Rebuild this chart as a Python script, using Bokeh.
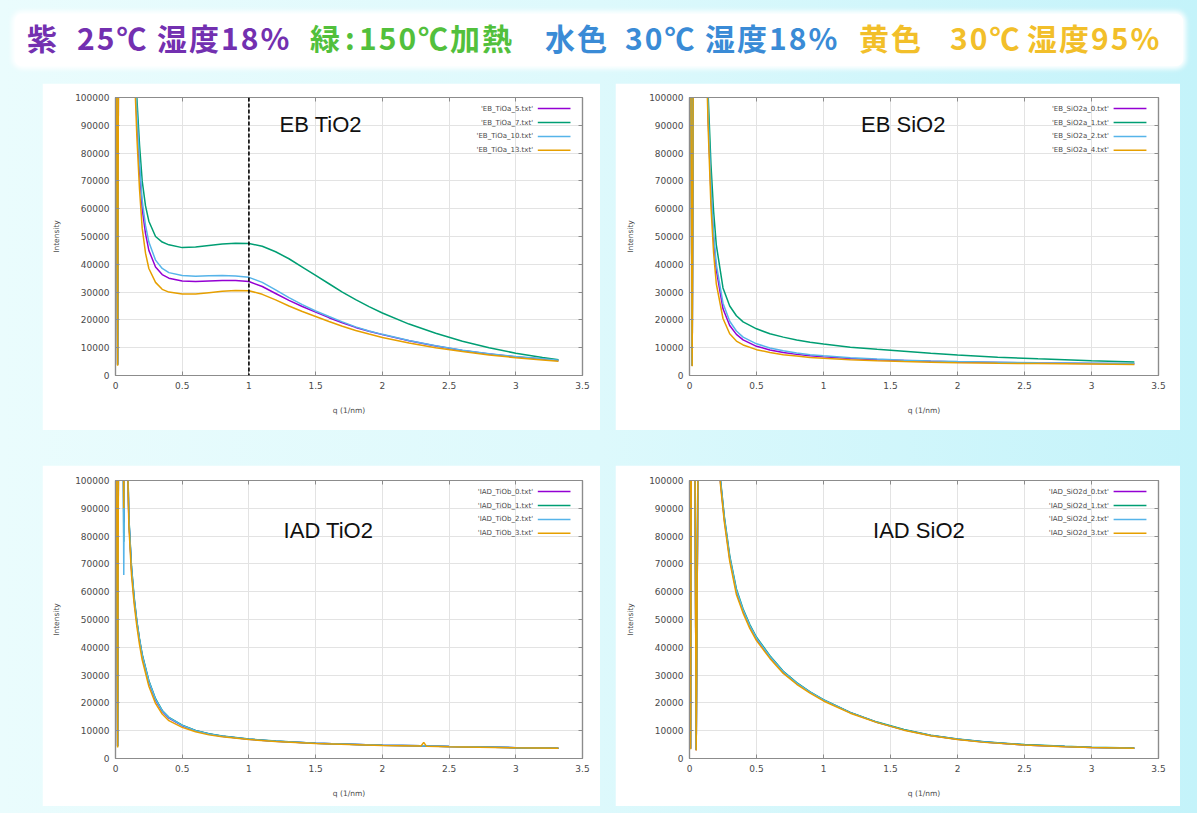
from bokeh.plotting import figure
from bokeh.models import (Range1d, LinearAxis, FixedTicker, CustomJSTickFormatter,
                          Label, Div, Spacer, Span)
from bokeh.layouts import column, row
from bokeh.embed import file_html
from bokeh.resources import INLINE
from bokeh.core.properties import value

# ---------------- data ----------------
x_ticks = [0, 0.5, 1, 1.5, 2, 2.5, 3, 3.5]
y_ticks = [0, 10000, 20000, 30000, 40000, 50000, 60000, 70000, 80000, 90000, 100000]
series_colors = ["#9400D3", "#009E73", "#56B4E9", "#E69F00"]

header_texts = ["紫", "25℃", "湿度18%", "緑", ":", "150℃加熱", "水色", "30℃", "湿度18%", "黄色", "30℃", "湿度95%"]
header_colors = ["#7330b0", "#7330b0", "#7330b0", "#52c03c", "#52c03c", "#52c03c",
                 "#3a8bd6", "#3a8bd6", "#3a8bd6", "#f2bf2a", "#f2bf2a", "#f2bf2a"]

# EB TiO2
q_eb_tio2 = [0.000, 0.008, 0.016, 0.024, 0.032, 0.060, 0.100, 0.140, 0.160, 0.180, 0.200, 0.225, 0.250,
             0.300, 0.350, 0.400, 0.500, 0.600, 0.700, 0.800, 0.900, 1.000, 1.100, 1.200, 1.300, 1.400,
             1.500, 1.600, 1.700, 1.800, 1.900, 2.000, 2.200, 2.400, 2.600, 2.800, 3.000, 3.200, 3.320]
eb_tio2_5 = [150000, 120000, 4000, 150000, 300000, 450000, 300000, 118000, 92000, 74000, 60000, 51000, 45000,
             39000, 36300, 35000, 34000, 33800, 34000, 34200, 34200, 33800, 32000, 29500, 27000, 24800,
             22800, 20800, 19000, 17300, 15900, 14700, 12500, 10600, 9000, 7700, 6700, 5900, 5400]
eb_tio2_7 = [150000, 118000, 3800, 160000, 320000, 480000, 320000, 125000, 100000, 83000, 70000, 61000, 55500,
             50000, 48000, 47000, 46000, 46200, 46800, 47300, 47600, 47500, 46500, 44500, 42000, 39000,
             36000, 33000, 30000, 27300, 24800, 22500, 18500, 15200, 12300, 10000, 8000, 6500, 5700]
eb_tio2_10 = [145000, 115000, 4200, 150000, 310000, 460000, 310000, 120000, 95000, 77000, 63000, 54000, 48000,
              41500, 38500, 37000, 36000, 35700, 35900, 36000, 35800, 35300, 33500, 30800, 28000, 25500,
              23200, 21200, 19300, 17500, 16000, 14800, 12600, 10700, 9100, 7800, 6800, 6000, 5500]
eb_tio2_13 = [140000, 110000, 3500, 145000, 290000, 440000, 290000, 112000, 86000, 67000, 53000, 44000, 38500,
              33500, 31000, 30000, 29300, 29300, 29800, 30300, 30600, 30500, 29200, 27200, 25000, 23000,
              21200, 19400, 17700, 16200, 14900, 13700, 11700, 10000, 8600, 7400, 6400, 5600, 5100]
eb_tio2_labels = ["'EB_TiOa_5.txt'", "'EB_TiOa_7.txt'", "'EB_TiOa_10.txt'", "'EB_TiOa_13.txt'"]
eb_tio2_marker_q = 1.0

# EB SiO2
q_eb_sio2 = [0.000, 0.010, 0.020, 0.030, 0.040, 0.055, 0.070, 0.085, 0.100, 0.120, 0.140, 0.160, 0.180,
             0.200, 0.250, 0.300, 0.350, 0.400, 0.500, 0.600, 0.700, 0.800, 0.900, 1.000, 1.200, 1.400,
             1.600, 1.800, 2.000, 2.300, 2.600, 3.000, 3.320]
eb_sio2_0 = [150000, 120000, 3500, 140000, 260000, 150000, 300000, 200000, 300000, 130000, 92000, 66000, 49000,
             38000, 24000, 18000, 14800, 12800, 10500, 9200, 8300, 7600, 7100, 6700, 6100, 5700,
             5400, 5100, 4900, 4700, 4500, 4300, 4200]
eb_sio2_1 = [150000, 118000, 3600, 150000, 270000, 160000, 310000, 210000, 320000, 140000, 100000, 76000, 59000,
             47000, 31500, 25000, 21500, 19300, 16800, 15000, 13800, 12800, 12000, 11300, 10200, 9400,
             8700, 8000, 7400, 6600, 6000, 5300, 4900]
eb_sio2_2 = [145000, 115000, 3400, 145000, 265000, 155000, 305000, 205000, 310000, 132000, 94000, 68000, 51000,
             40000, 26000, 19500, 16000, 13800, 11400, 9900, 8900, 8100, 7500, 7100, 6400, 5900,
             5500, 5200, 5000, 4800, 4600, 4400, 4300]
eb_sio2_4 = [140000, 110000, 3300, 140000, 255000, 145000, 295000, 195000, 300000, 125000, 88000, 61000, 44000,
             33000, 20500, 15000, 12400, 11000, 9300, 8300, 7500, 7000, 6500, 6200, 5700, 5300,
             5000, 4800, 4600, 4400, 4300, 4100, 4000]
eb_sio2_labels = ["'EB_SiO2a_0.txt'", "'EB_SiO2a_1.txt'", "'EB_SiO2a_2.txt'", "'EB_SiO2a_4.txt'"]

# IAD TiO2
q_iad_tio2 = [0.000, 0.008, 0.016, 0.024, 0.032, 0.045, 0.055, 0.062, 0.070, 0.080, 0.090, 0.100, 0.120,
              0.140, 0.160, 0.180, 0.200, 0.250, 0.300, 0.350, 0.400, 0.500, 0.600, 0.700, 0.800, 1.000,
              1.200, 1.500, 2.000, 2.290, 2.310, 2.330, 2.500, 3.000, 3.320]
iad_tio2_0 = [150000, 120000, 4500, 150000, 300000, 200000, 150000, 85000, 150000, 160000, 110000, 86000, 68000,
              57000, 49000, 42500, 37000, 27500, 21000, 17000, 14500, 11800, 10000, 8800, 8000, 6900,
              6200, 5500, 4800, 4550, 4550, 4500, 4300, 3900, 3700]
iad_tio2_1 = [148000, 118000, 4300, 155000, 310000, 210000, 140000, 78000, 140000, 165000, 112000, 87000, 69000,
              58000, 49500, 43000, 37500, 28000, 21500, 17300, 14800, 12000, 10100, 8900, 8100, 7000,
              6300, 5500, 4800, 4550, 4550, 4500, 4300, 3900, 3700]
iad_tio2_2 = [145000, 115000, 4400, 150000, 305000, 205000, 145000, 66000, 145000, 160000, 111000, 86500, 68500,
              57500, 49200, 42800, 37200, 27800, 21300, 17200, 14700, 11900, 10000, 8800, 8000, 6900,
              6200, 5500, 4800, 4550, 4550, 4500, 4300, 3900, 3700]
iad_tio2_3 = [140000, 110000, 4000, 145000, 295000, 195000, 150000, 90000, 150000, 155000, 108000, 84000, 66000,
              55500, 47500, 41000, 35500, 26000, 19800, 16000, 13600, 11200, 9600, 8500, 7800, 6800,
              6100, 5400, 4700, 4500, 5800, 4450, 4250, 3850, 3650]
iad_tio2_labels = ["'IAD_TiOb_0.txt'", "'IAD_TiOb_1.txt'", "'IAD_TiOb_2.txt'", "'IAD_TiOb_3.txt'"]

# IAD SiO2
q_iad_sio2 = [0.000, 0.008, 0.016, 0.024, 0.032, 0.040, 0.050, 0.100, 0.150, 0.200, 0.230, 0.260, 0.300,
              0.350, 0.400, 0.450, 0.500, 0.600, 0.700, 0.800, 0.900, 1.000, 1.200, 1.400, 1.600, 1.800,
              2.000, 2.200, 2.500, 2.800, 3.000, 3.320]
iad_sio2_0 = [150000, 3500, 160000, 300000, 200000, 120000, 3000, 400000, 300000, 140000, 100000, 86000, 72000,
              60000, 53000, 47500, 43000, 36500, 31000, 27000, 23800, 21000, 16500, 13000, 10300, 8300,
              6900, 5900, 4900, 4300, 4000, 3700]
iad_sio2_1 = [148000, 3600, 165000, 310000, 205000, 125000, 3100, 410000, 305000, 142000, 101000, 87000, 73000,
              61000, 53800, 48200, 43600, 37000, 31400, 27300, 24000, 21200, 16600, 13100, 10400, 8400,
              7000, 6000, 5000, 4400, 4050, 3750]
iad_sio2_2 = [145000, 3400, 158000, 305000, 202000, 122000, 3050, 405000, 302000, 141000, 100500, 86500, 72500,
              60500, 53400, 47800, 43300, 36700, 31200, 27100, 23900, 21100, 16500, 13000, 10300, 8300,
              6900, 5900, 4900, 4300, 4000, 3700]
iad_sio2_3 = [140000, 3300, 155000, 295000, 198000, 118000, 2900, 395000, 295000, 138000, 99000, 85000, 71000,
              59000, 52300, 46800, 42400, 36000, 30600, 26700, 23500, 20700, 16300, 12900, 10200, 8200,
              6800, 5800, 4850, 4250, 3950, 3650]
iad_sio2_labels = ["'IAD_SiO2d_0.txt'", "'IAD_SiO2d_1.txt'", "'IAD_SiO2d_2.txt'", "'IAD_SiO2d_3.txt'"]

legend_rows = [96000, 91000, 86000, 81000]

# ---------------- styling helpers ----------------
FRAME = "#8c8c8c"
TXT = "#4a4a4a"
tick_fmt = CustomJSTickFormatter(code="return String(tick);")
blank_fmt = CustomJSTickFormatter(code="return '';")


def style_axis(ax, labels=True):
    ax.major_tick_in = 4
    ax.major_tick_out = 0
    ax.minor_tick_line_color = None
    ax.axis_line_color = FRAME
    ax.axis_line_width = 1.2
    ax.major_tick_line_color = FRAME
    ax.major_tick_line_width = 1
    ax.major_label_text_font = "DejaVu Sans"
    ax.major_label_text_font_size = "9px" if labels else "0px"
    ax.major_label_text_color = TXT
    ax.major_label_standoff = 6 if labels else 0
    ax.axis_label_text_font = "DejaVu Sans"
    ax.axis_label_text_font_size = "7.5px"
    ax.axis_label_text_font_style = "normal"
    ax.axis_label_text_color = TXT


def make_panel(q, ys, labels, title, title_pos, width, height, borders, marker=None):
    bl, br, bt, bb = borders
    p = figure(width=width, height=height, x_range=Range1d(0, 3.5), y_range=Range1d(0, 100000),
               output_backend="svg", toolbar_location=None,
               min_border_left=bl, min_border_right=br, min_border_top=bt, min_border_bottom=bb)
    p.background_fill_color = "white"
    p.border_fill_color = "white"
    p.outline_line_color = FRAME
    p.outline_line_width = 1.2

    p.xaxis.ticker = FixedTicker(ticks=x_ticks)
    p.yaxis.ticker = FixedTicker(ticks=y_ticks)
    p.xaxis.formatter = tick_fmt
    p.yaxis.formatter = tick_fmt
    for ax in p.xaxis + p.yaxis:
        style_axis(ax)
    p.xaxis.axis_label = "q (1/nm)"
    p.xaxis.axis_label_standoff = 14
    p.yaxis.axis_label = "Intensity"
    p.yaxis.axis_label_standoff = 11

    top = LinearAxis(ticker=FixedTicker(ticks=x_ticks), formatter=blank_fmt)
    right = LinearAxis(ticker=FixedTicker(ticks=y_ticks), formatter=blank_fmt)
    style_axis(top, labels=False)
    style_axis(right, labels=False)
    p.add_layout(top, "above")
    p.add_layout(right, "right")

    p.xgrid.ticker = FixedTicker(ticks=x_ticks)
    p.ygrid.ticker = FixedTicker(ticks=y_ticks)
    p.grid.grid_line_color = "#e3e3e3"
    p.grid.grid_line_width = 1

    for y, c in zip(ys, series_colors):
        p.line(q, y, line_color=c, line_width=1.5)

    if marker is not None:
        p.add_layout(Span(location=marker, dimension="height", line_color="black",
                          line_dash="4 2", line_width=1.6))

    # gnuplot-style key: label on the left, sample line on the right
    p.text(x=[3.13] * 4, y=legend_rows, text=labels, text_align="right", text_baseline="middle",
           text_font=value("DejaVu Sans"), text_font_size="7px", text_color=TXT)
    p.segment(x0=[3.165] * 4, y0=legend_rows, x1=[3.41] * 4, y1=legend_rows,
              line_color=series_colors, line_width=1.5)

    p.add_layout(Label(x=title_pos[0], y=title_pos[1], text=title, text_font="Liberation Sans",
                       text_font_size="22px", text_color="#111111", text_baseline="middle"))
    return p


p1 = make_panel(q_eb_tio2, [eb_tio2_5, eb_tio2_7, eb_tio2_10, eb_tio2_13], eb_tio2_labels,
                "EB TiO2", (1.23, 90300), 558, 347, (73, 18, 14, 55), marker=eb_tio2_marker_q)
p2 = make_panel(q_eb_sio2, [eb_sio2_0, eb_sio2_1, eb_sio2_2, eb_sio2_4], eb_sio2_labels,
                "EB SiO2", (1.28, 90300), 565, 347, (74, 22, 14, 55))
p3 = make_panel(q_iad_tio2, [iad_tio2_0, iad_tio2_1, iad_tio2_2, iad_tio2_3], iad_tio2_labels,
                "IAD TiO2", (1.26, 82000), 558, 341, (73, 18, 15, 48))
p4 = make_panel(q_iad_sio2, [iad_sio2_0, iad_sio2_1, iad_sio2_2, iad_sio2_3], iad_sio2_labels,
                "IAD SiO2", (1.37, 82000), 565, 341, (74, 22, 15, 48))

# ---------------- header ----------------
header_left = [12, 62, 142, 295, 330, 344, 530, 610, 690, 844, 935, 1012]
spans = "".join(
    f'<span style="position:absolute;left:{x}px;top:8px;color:{c};line-height:30px;">{t}</span>'
    for t, c, x in zip(header_texts, header_colors, header_left))
header_html = (
    '<div style="position:relative;width:1168px;height:52px;margin-left:15px;margin-top:14px;'
    'background:#ffffff;border-radius:7px;box-shadow:0 0 5px 3px #ffffff;'
    'font-family:\'Noto Sans CJK JP\';font-weight:bold;font-size:30px;letter-spacing:2px;'
    'white-space:nowrap;">' + spans + '</div>')
header = Div(text=header_html, width=1197, height=83, margin=0)

bg = "linear-gradient(to right, #eafcfd 0%, #ddf9fc 50%, #c4f3fa 100%)"
root = column(
    header,
    row(Spacer(width=42, height=347), p1, Spacer(width=15, height=347), p2, Spacer(width=17, height=347)),
    Spacer(width=1197, height=35),
    row(Spacer(width=42, height=341), p3, Spacer(width=15, height=341), p4, Spacer(width=17, height=341)),
    Spacer(width=1197, height=7),
    width=1197, height=813, styles={"background": bg},
)

open("out.html", "w").write(file_html(root, INLINE))
